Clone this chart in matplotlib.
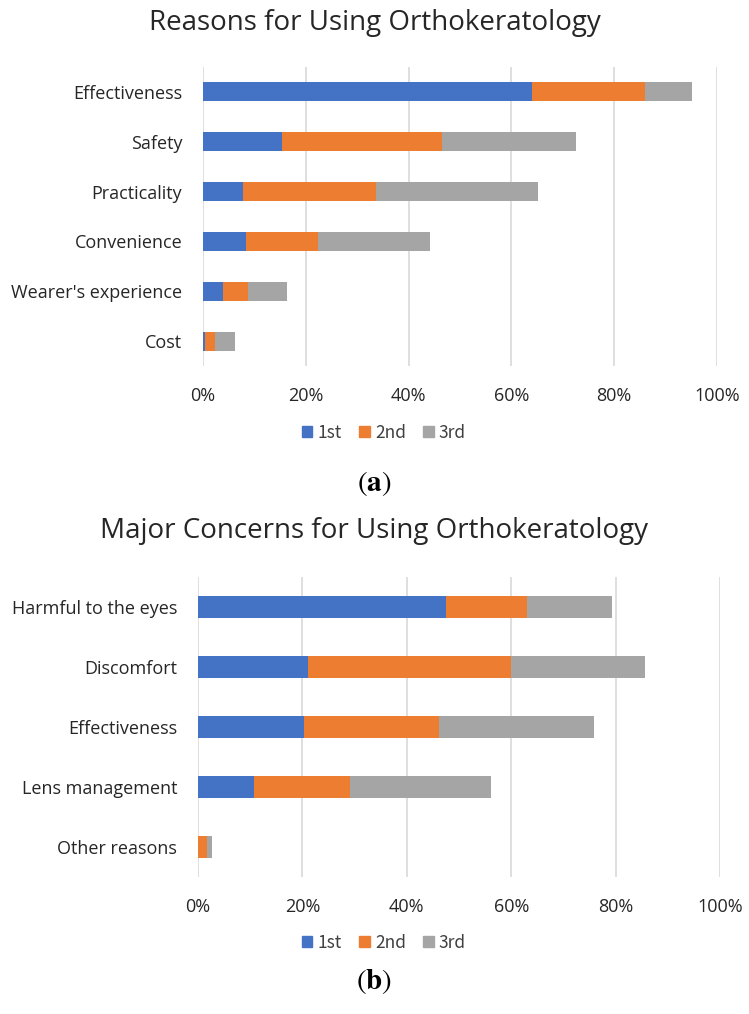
import matplotlib
matplotlib.use("Agg")
import matplotlib.pyplot as plt
from matplotlib.ticker import PercentFormatter
from matplotlib.patches import Patch

# ---- data (percent) ----
cats_a = ["Effectiveness", "Safety", "Practicality", "Convenience", "Wearer's experience", "Cost"]
a_1st = [64.1, 15.3, 7.7, 8.3, 3.9, 0.4]
a_2nd = [21.8, 31.2, 26.0, 14.0, 4.9, 2.0]
a_3rd = [9.2, 26.1, 31.5, 21.8, 7.6, 3.8]

cats_b = ["Harmful to the eyes", "Discomfort", "Effectiveness", "Lens management", "Other reasons"]
b_1st = [47.5, 21.0, 20.4, 10.8, 0.0]
b_2nd = [15.5, 38.9, 25.7, 18.4, 1.8]
b_3rd = [16.4, 25.7, 29.7, 27.0, 0.9]

series_names = ["1st", "2nd", "3rd"]
xticks = [0, 20, 40, 60, 80, 100]

colors = ["#4472C4", "#ED7D31", "#A5A5A5"]
W, H = 749, 1014
plt.rcParams['font.family'] = ['Open Sans', 'DejaVu Sans']
plt.rcParams['mathtext.fontset'] = 'stix'
fig = plt.figure(figsize=(W / 100, H / 100), dpi=100)


def fx(px):
    return px / W


def fy(py):
    return 1 - py / H


def draw(ax_box, cats, s1, s2, s3, title, title_y, legend_y, label, label_y):
    l, r, t, b = ax_box
    ax = fig.add_axes([fx(l), fy(b), fx(r) - fx(l), fy(t) - fy(b)])
    n = len(cats)
    ypos = list(range(n))
    lefts = [0] * n
    for vals, c in zip([s1, s2, s3], colors):
        ax.barh(ypos, vals, left=lefts, height=0.38, color=c, zorder=3)
        lefts = [a + v for a, v in zip(lefts, vals)]
    ax.set_ylim(n - 0.5, -0.5)
    ax.set_xlim(0, 100)
    ax.set_yticks(ypos)
    ax.set_yticklabels(cats, fontsize=13, color="#262626")
    ax.set_xticks(xticks)
    ax.xaxis.set_major_formatter(PercentFormatter(decimals=0))
    ax.tick_params(axis='x', labelsize=13, colors="#404040", length=0, pad=15)
    ax.tick_params(axis='y', length=0, pad=15)
    for lab in ax.get_xticklabels():
        lab.set_color("#262626")
    ax.grid(axis='x', color="#D9D9D9", linewidth=1.2, zorder=0)
    for sp in ax.spines.values():
        sp.set_visible(False)
    fig.text(0.5, fy(title_y), title, ha='center', va='center', fontsize=20, color="#262626")
    handles = [Patch(color=c) for c in colors]
    fig.legend(handles, series_names, loc='center', bbox_to_anchor=(fx(384), fy(legend_y)),
               ncol=3, frameon=False, handlelength=0.6, handleheight=0.6,
               handletextpad=0.3, columnspacing=1.0, labelcolor="#404040",
               prop={'family': ['Noto Sans CJK KR', 'DejaVu Sans'], 'size': 12.5})
    fig.text(0.5, fy(label_y), r'$(\mathbf{' + label + r'})$', ha='center', va='center', fontsize=21)
    return ax


draw((203, 717, 67, 366), cats_a, a_1st, a_2nd, a_3rd,
     "Reasons for Using Orthokeratology", 23, 433, 'a', 484)
draw((198, 720, 577, 877), cats_b, b_1st, b_2nd, b_3rd,
     "Major Concerns for Using Orthokeratology", 531, 943, 'b', 982)

fig.savefig("out.png", dpi=100)
